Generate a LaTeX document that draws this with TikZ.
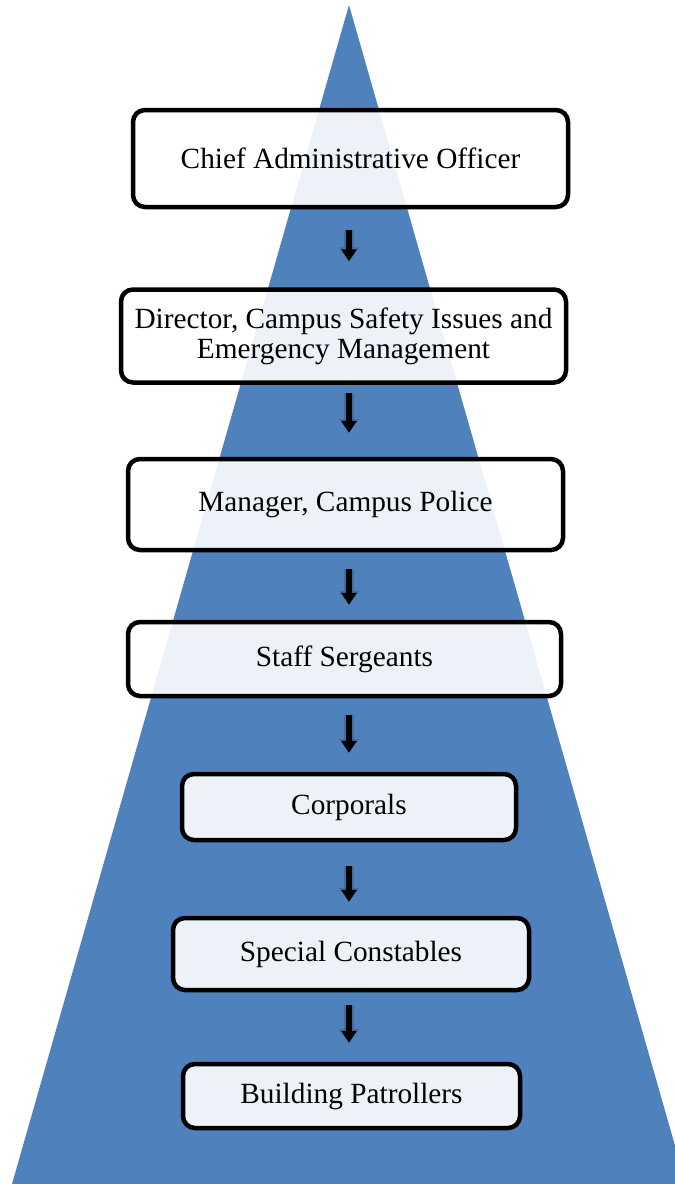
\documentclass[tikz,border=0pt]{standalone}
\usepackage{fontspec}
\setmainfont{Liberation Serif}
\usetikzlibrary{arrows.meta}
\definecolor{pyramidblue}{HTML}{4F81BD}
\definecolor{arrowshade}{HTML}{365E8E}
\begin{document}
\begin{tikzpicture}[x=1pt,y=-1pt,
  rank/.style={draw=black,line width=4.5pt,rounded corners=12pt,fill=white,
    fill opacity=0.9,text opacity=1,align=center,inner sep=0pt,
    font=\fontsize{29.3}{30}\selectfont},
  down/.style={line width=6.5pt,-{Triangle[width=15pt,length=12pt]},
    preaction={draw=arrowshade,opacity=0.55,line width=9.5pt,
      -{Triangle[width=20pt,length=14pt]}}}]
\clip (0,0) rectangle (675,1184);
% pyramid
\coordinate (apex) at (349,5);
\fill[pyramidblue] (apex) -- (12,1184) -- (686,1184) -- cycle;
% ranks
\node[rank,minimum width=435pt,minimum height=97pt] (cao) at (350.5,158.5) {Chief Administrative Officer};
\node[rank,minimum width=445pt,minimum height=93pt] (dir) at (343.5,336) {Director, Campus Safety Issues and\\Emergency Management};
\node[rank,minimum width=435pt,minimum height=91pt] (mgr) at (345.5,504.5) {Manager, Campus Police};
\node[rank,minimum width=433pt,minimum height=74pt] (sgt) at (344.5,659) {Staff Sergeants};
\node[rank,minimum width=334pt,minimum height=66pt] (cpl) at (349,807) {Corporals};
\node[rank,minimum width=356pt,minimum height=72pt] (spc) at (351,954) {Special Constables};
\node[rank,minimum width=337pt,minimum height=64pt] (bpt) at (351.5,1096) {Building Patrollers};
% arrows
\foreach \a/\b/\s/\e in {cao/dir/21/26,dir/mgr/8/24,mgr/sgt/17/15,sgt/cpl/17/19,cpl/spc/24/14,spc/bpt/13/19}
  \draw[down,shorten <=\s pt,shorten >=\e pt] (\a.south -| apex) -- (\b.north -| apex);
\end{tikzpicture}
\end{document}
